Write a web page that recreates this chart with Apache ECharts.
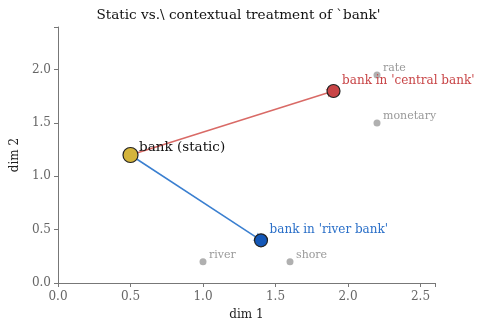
<!DOCTYPE html>
<html><head><meta charset="utf-8">
<script src="https://cdn.jsdelivr.net/npm/echarts@6/dist/echarts.min.js"></script>
<style>html,body{margin:0;padding:0;background:#fff}#c{width:477px;height:320px}</style>
</head><body><div id="c"></div>
<script>
var contextWords = ['rate', 'monetary', 'river', 'shore'];
var contextX = [2.2, 2.2, 1.0, 1.6];
var contextY = [1.95, 1.5, 0.2, 0.2];
var staticPoint = [0.5, 1.2];
var centralPoint = [1.9, 1.8];
var riverPoint = [1.4, 0.4];
var staticLabel = 'bank (static)';
var centralLabel = "bank in 'central bank'";
var riverLabel = "bank in 'river bank'";
var xTicks = [0.0, 0.5, 1.0, 1.5, 2.0, 2.5];
var yTicks = [0.0, 0.5, 1.0, 1.5, 2.0];

var F = 'DejaVu Serif';
var chart = echarts.init(document.getElementById('c'));
var ctxData = contextWords.map(function(w, i){ return {name: w, value: [contextX[i], contextY[i]]}; });
function fmt(v){ return v.toFixed(1); }
chart.setOption({
  animation: false,
  title: {text: 'Static vs.\\ contextual treatment of `bank\'', left: 'center', top: 3,
    textStyle: {fontFamily: F, fontSize: 13.6, fontWeight: 'normal', color: '#111'}},
  grid: {left: 58, right: 42, top: 27, bottom: 37, outerBoundsMode: 'none', containLabel: false},
  xAxis: {type: 'value', min: 0, max: 2.6, interval: 0.5, name: 'dim 1', nameLocation: 'middle', nameGap: 26,
    nameTextStyle: {fontFamily: F, fontSize: 12, color: '#222'},
    axisLine: {lineStyle: {color: '#777'}}, axisTick: {show: true, length: 4, lineStyle: {color: '#777'}},
    axisLabel: {fontFamily: F, fontSize: 12, color: '#666', margin: 8, formatter: function(v){ return xTicks.indexOf(v) >= 0 ? fmt(v) : ''; }},
    splitLine: {show: false}},
  yAxis: {type: 'value', min: 0, max: 2.4, interval: 0.5, name: 'dim 2', nameLocation: 'middle', nameGap: 32,
    nameTextStyle: {fontFamily: F, fontSize: 12, color: '#222'},
    axisLine: {show: true, lineStyle: {color: '#777'}}, axisTick: {show: true, length: 4, lineStyle: {color: '#777'}},
    axisLabel: {fontFamily: F, fontSize: 12, color: '#666', margin: 7, formatter: function(v){ return yTicks.indexOf(v) >= 0 ? fmt(v) : ''; }},
    splitLine: {show: false}},
  series: [
    {type: 'scatter', data: ctxData, symbolSize: 7, itemStyle: {color: '#b0b0b0', opacity: 1},
      label: {show: true, position: 'right', distance: 0, offset: [2.5, -7], formatter: '{b}', fontFamily: F, fontSize: 11, color: '#999'}, z: 2},
    {type: 'lines', coordinateSystem: 'cartesian2d', symbol: ['none', 'arrow'], symbolSize: 7,
      lineStyle: {color: '#d96a66', width: 1.5, opacity: 1}, z: 3,
      data: [{coords: [staticPoint, centralPoint]}]},
    {type: 'lines', coordinateSystem: 'cartesian2d', symbol: ['none', 'arrow'], symbolSize: 7,
      lineStyle: {color: '#3a7fd0', width: 1.5, opacity: 1}, z: 3,
      data: [{coords: [staticPoint, riverPoint]}]},
    {type: 'scatter', symbolSize: 15, z: 5,
      data: [
        {name: staticLabel, value: staticPoint, itemStyle: {color: '#d4b43c', borderColor: '#222', borderWidth: 1.2, opacity: 1},
          label: {show: true, position: 'right', distance: 0, offset: [0.5, -8], fontSize: 13.5, color: '#111', fontFamily: F}},
        {name: centralLabel, value: centralPoint, itemStyle: {color: '#c84446', borderColor: '#222', borderWidth: 1.2, opacity: 1}, symbolSize: 13,
          label: {show: true, position: 'right', distance: 0, offset: [1.5, -10], fontSize: 12, color: '#c84446', fontFamily: F}},
        {name: riverLabel, value: riverPoint, itemStyle: {color: '#1458b8', borderColor: '#222', borderWidth: 1.2, opacity: 1}, symbolSize: 13,
          label: {show: true, position: 'right', distance: 0, offset: [1.5, -10], fontSize: 12, color: '#2a6fc8', fontFamily: F}}
      ],
      label: {show: true, formatter: '{b}'}}
  ]
});
</script></body></html>
